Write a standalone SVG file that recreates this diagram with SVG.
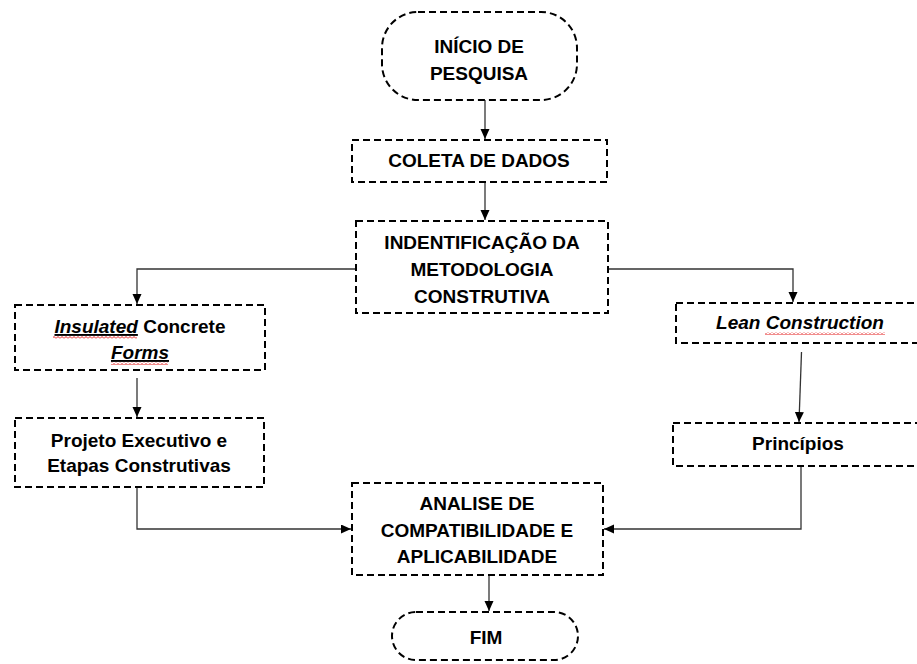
<svg xmlns="http://www.w3.org/2000/svg" width="917" height="664" viewBox="0 0 917 664">
<style>
.box{fill:#fff;stroke:#000;stroke-width:2;stroke-dasharray:7 4}
.t{font-family:"Liberation Sans",Arial,sans-serif;font-weight:bold;font-size:19px;fill:#000;text-anchor:middle}
.i{font-style:italic}
.c{fill:none;stroke:#333;stroke-width:1.3}
.sq{fill:url(#squig)}
</style>
<defs>
<marker id="ah" markerUnits="userSpaceOnUse" markerWidth="11" markerHeight="10" refX="10" refY="4.5" orient="auto">
<path d="M0,0 L10,4.5 L0,9 z" fill="#000"/>
</marker>
<pattern id="squig" patternUnits="userSpaceOnUse" width="4" height="3">
<path d="M0,2.5 L2,0.5 L4,2.5" fill="none" stroke="#e00000" stroke-width="0.9"/>
</pattern>
</defs>
<rect width="917" height="664" fill="#fff"/>

<g id="connectors">
<path class="c" d="M485,100 V139" marker-end="url(#ah)"/>
<path class="c" d="M485,182 V220" marker-end="url(#ah)"/>
<path class="c" d="M356,269 H137 V304" marker-end="url(#ah)"/>
<path class="c" d="M608,269 H793 V302" marker-end="url(#ah)"/>
<path class="c" d="M137,378 V417" marker-end="url(#ah)"/>
<path class="c" d="M801.5,352 L799,422" marker-end="url(#ah)"/>
<path class="c" d="M137,487 V529 H351" marker-end="url(#ah)"/>
<path class="c" d="M801,466 V529 H604" marker-end="url(#ah)"/>
<path class="c" d="M489,575 V611" marker-end="url(#ah)"/>
</g>

<g id="inicio">
<rect class="box" x="382" y="12" width="195" height="88" rx="36" ry="36"/>
<text class="t" x="479" y="53">INÍCIO DE</text>
<text class="t" x="479" y="80">PESQUISA</text>
</g>

<g id="coleta">
<rect class="box" x="352" y="140" width="255" height="42"/>
<text class="t" x="479" y="167">COLETA DE DADOS</text>
</g>

<g id="identificacao">
<rect class="box" x="356" y="221" width="252" height="92"/>
<text class="t" x="482" y="249">INDENTIFICAÇÃO DA</text>
<text class="t" x="482" y="276">METODOLOGIA</text>
<text class="t" x="482" y="303">CONSTRUTIVA</text>
</g>

<g id="icf">
<rect class="box" x="15" y="305" width="250" height="65"/>
<text class="t" x="140" y="333"><tspan class="i" text-decoration="underline">Insulated</tspan> Concrete</text>
<text class="t i" x="140" y="359" text-decoration="underline">Forms</text>
<rect class="sq" x="53" y="336" width="84" height="3"/>
<rect class="sq" x="111" y="362" width="57" height="3"/>
</g>

<g id="projeto">
<rect class="box" x="15" y="418" width="249" height="69"/>
<text class="t" x="139" y="447">Projeto Executivo e</text>
<text class="t" x="139" y="472">Etapas Construtivas</text>
</g>

<g id="lean">
<rect class="box" x="676" y="303" width="250" height="40"/>
<text class="t i" x="800" y="329">Lean Construction</text>
<rect class="sq" x="765" y="332" width="120" height="3"/>
</g>

<g id="principios">
<rect class="box" x="673" y="423" width="253" height="43"/>
<text class="t" x="798" y="450">Princípios</text>
</g>

<g id="analise">
<rect class="box" x="352" y="483" width="251" height="92"/>
<text class="t" x="477" y="510">ANALISE DE</text>
<text class="t" x="477" y="537">COMPATIBILIDADE E</text>
<text class="t" x="477" y="563">APLICABILIDADE</text>
</g>

<g id="fim">
<rect class="box" x="392" y="612" width="186" height="48" rx="24" ry="24"/>
<text class="t" x="486" y="644">FIM</text>
</g>
</svg>
